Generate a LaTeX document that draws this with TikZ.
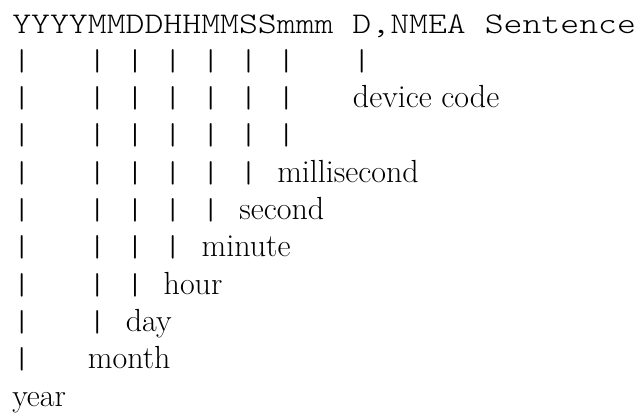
\documentclass[tikz,border=0pt]{standalone}
\usepackage{graphicx}
\usepackage{tikz}
\usetikzlibrary{positioning}

\DeclareFontShape{TU}{lmtt}{l}{n}{<-> "[lmmonolt10-regular]"}{}
\newcommand{\codetext}[1]{\scalebox{1.2}[1]{\ttfamily\fontsize{22.5}{27}\fontseries{l}\selectfont #1}}
\tikzset{code/.style={anchor=base west,inner sep=0pt},
         field/.style={anchor=base west,inner sep=0pt,font=\fontsize{24}{28}\selectfont},}

\begin{document}
\begin{tikzpicture}[x=0.75pt,y=-0.75pt]
    \useasboundingbox (0,0) rectangle (638,414);
    % column c starts at 12+18.93c, rows every 37.3
    \node[code] (top) at (12,33) {\codetext{YYYYMMDDHHMMSSmmm D,NMEA Sentence}};
    \node[code] (r1) at (12,70.3) {\codetext{|~~~|~|~|~|~|~|~~~|}};
    \node[code] (r2) at (12,107.6) {\codetext{|~~~|~|~|~|~|~|}};
    \node[code] (r3) at (12,144.9) {\codetext{|~~~|~|~|~|~|~|}};
    \node[code] (r4) at (12,182.2) {\codetext{|~~~|~|~|~|~|}};
    \node[code] (r5) at (12,219.5) {\codetext{|~~~|~|~|~|}};
    \node[code] (r6) at (12,256.8) {\codetext{|~~~|~|~|}};
    \node[code] (r7) at (12,294.1) {\codetext{|~~~|~|}};
    \node[code] (r8) at (12,331.4) {\codetext{|~~~|}};
    \node[code] (r9) at (12,368.7) {\codetext{|}};

    \node[field] (device) at (352.7,107.6) {device code};
    \node[field] (msec) at (277.0,182.2) {millisecond};
    \node[field] (sec) at (239.2,219.5) {second};
    \node[field] (min) at (201.3,256.8) {minute};
    \node[field] (hour) at (163.4,294.1) {hour};
    \node[field] (day) at (125.6,331.4) {day};
    \node[field] (month) at (87.7,368.7) {month};
    \node[field] (year) at (12,406) {year};
\end{tikzpicture}
\end{document}
